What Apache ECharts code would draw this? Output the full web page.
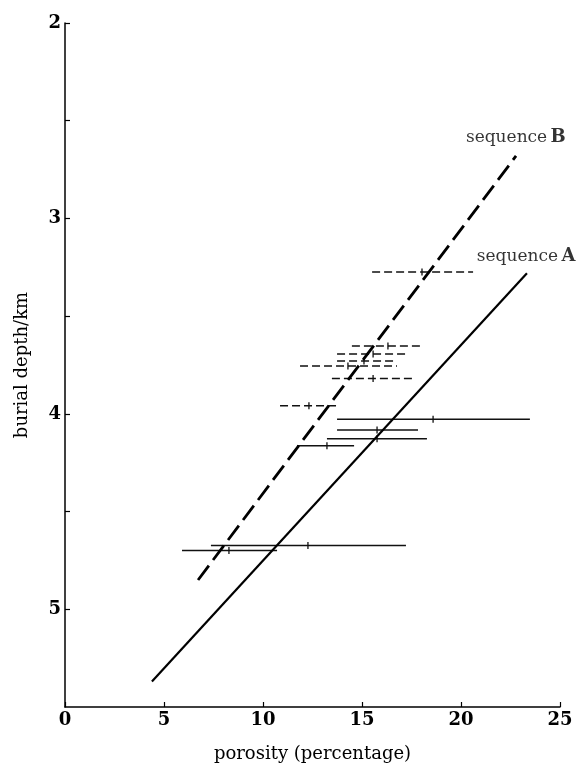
<!DOCTYPE html>
<html>
<head>
<meta charset="utf-8">
<script src="https://cdn.jsdelivr.net/npm/echarts@6/dist/echarts.min.js"></script>
<style>html,body{margin:0;padding:0;background:#fff}#c{width:586px;height:768px}</style>
</head>
<body>
<div id="c"></div>
<script>
// Fitted trend lines: [porosity %, depth km]
const seqA_line = [[4.39, 5.37], [23.33, 3.28]];
const seqB_line = [[6.72, 4.85], [22.78, 2.68]];
// Error bars: depth, low, high, centre (porosity %)
const seqB_depth  = [3.274, 3.653, 3.694, 3.730, 3.755, 3.819, 3.959];
const seqB_low    = [15.51, 14.49, 13.74, 13.74, 11.87, 13.48, 10.86];
const seqB_high   = [20.61, 18.08, 17.27, 16.62, 16.77, 17.63, 13.79];
const seqB_centre = [18.03, 16.31, 15.56, 15.10, 14.29, 15.56, 12.32];

const seqA_depth  = [4.028, 4.082, 4.128, 4.163, 4.673, 4.699];
const seqA_low    = [13.74, 13.74, 13.23, 11.72, 7.37, 5.91];
const seqA_high   = [23.48, 17.83, 18.28, 14.60, 17.22, 10.71];
const seqA_centre = [18.59, 15.76, 15.76, 13.23, 12.27, 8.28];

// Label anchor points [porosity, depth]
const labelB = [20.25, 2.587];
const labelA = [20.8, 3.194];

const xTicks = [0, 5, 10, 15, 20, 25];
const yTicks = [2, 3, 4, 5];

const serif = '"DejaVu Serif", "Liberation Serif", serif';

function bars(depth, low, high, centre) {
  return depth.map((d, i) => [low[i], d, high[i], centre[i]]);
}
function errRender(dashed) {
  return function (params, api) {
    const y = api.value(1);
    const p1 = api.coord([api.value(0), y]);
    const p2 = api.coord([api.value(2), y]);
    const pc = api.coord([api.value(3), y]);
    return {
      type: 'group',
      children: [
        { type: 'line', shape: { x1: p1[0], y1: p1[1], x2: p2[0], y2: p2[1] },
          style: { stroke: '#111', lineWidth: 1.5, lineDash: dashed ? [8, 4] : null } },
        { type: 'line', shape: { x1: pc[0], y1: pc[1] - 3.5, x2: pc[0], y2: pc[1] + 3.5 },
          style: { stroke: '#111', lineWidth: 1.3 } }
      ]
    };
  };
}

const chart = echarts.init(document.getElementById('c'));
chart.setOption({
  animation: false,
  backgroundColor: '#fff',
  grid: { left: 65, right: 26, top: 23, bottom: 59 },
  xAxis: {
    type: 'value', min: 0, max: 25, interval: 5,
    name: 'porosity (percentage)', nameLocation: 'middle', nameGap: 38,
    nameTextStyle: { fontFamily: serif, fontSize: 18, color: '#000' },
    axisLine: { lineStyle: { color: '#000', width: 1.5 } },
    axisTick: { inside: true, length: 5, lineStyle: { color: '#000', width: 1.2 } },
    axisLabel: { fontFamily: serif, fontWeight: 'bold', fontSize: 18, color: '#000', margin: 4,
      formatter: v => xTicks.includes(v) ? String(v) : '' },
    splitLine: { show: false }
  },
  yAxis: {
    type: 'value', min: 2, max: 5.5, interval: 0.5, inverse: true,
    name: 'burial depth/km', nameLocation: 'middle', nameGap: 34, nameRotate: 90,
    nameTextStyle: { fontFamily: serif, fontSize: 18, color: '#000' },
    axisLine: { show: true, lineStyle: { color: '#000', width: 1.5 } },
    axisTick: { show: true, inside: true, length: 5, lineStyle: { color: '#000', width: 1.2 },
      customValues: [2, 2.5, 3, 3.5, 4, 4.5, 5] },
    axisLabel: { fontFamily: serif, fontWeight: 'bold', fontSize: 18, color: '#000', margin: 4,
      formatter: v => yTicks.includes(v) ? String(v) : '' },
    splitLine: { show: false }
  },
  series: [
    { type: 'line', data: seqA_line, showSymbol: false, silent: true,
      lineStyle: { color: '#000', width: 2.2 } },
    { type: 'line', data: seqB_line, showSymbol: false, silent: true,
      lineStyle: { color: '#000', width: 2.8, type: [18, 7] } },
    { type: 'custom', renderItem: errRender(true), data: bars(seqB_depth, seqB_low, seqB_high, seqB_centre),
      encode: { x: [0, 2, 3], y: 1 }, silent: true },
    { type: 'custom', renderItem: errRender(false), data: bars(seqA_depth, seqA_low, seqA_high, seqA_centre),
      encode: { x: [0, 2, 3], y: 1 }, silent: true },
    { type: 'scatter', symbolSize: 0, silent: true,
      data: [
        { value: labelB, label: { formatter: '{n|sequence} {b|B}' } },
        { value: labelA, label: { formatter: '{n|sequence} {b|A}' } }
      ],
      label: { show: true, position: 'right', distance: 0, color: '#000',
        rich: { n: { fontFamily: serif, fontSize: 17, color: '#000' },
                b: { fontFamily: serif, fontSize: 18, fontWeight: 'bold', color: '#000' } } } }
  ]
});
</script>
</body>
</html>
